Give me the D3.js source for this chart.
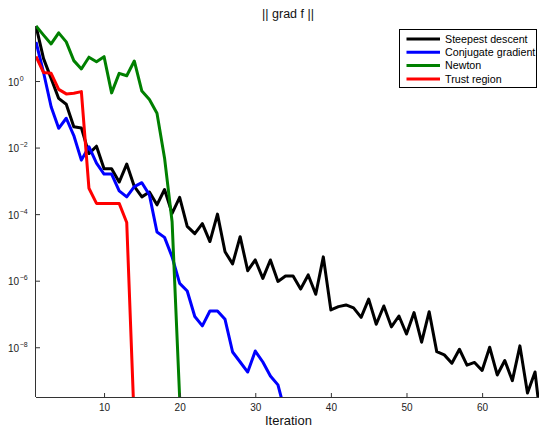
<html>
<head>
<script src="https://d3js.org/d3.v7.min.js"></script>
<style>
  body { margin: 0; background: #fff; }
  text { font-family: "Liberation Sans", Arial, sans-serif; }
</style>
</head>
<body>
<div id="chart"></div>
<script>
// ||grad f|| per iteration
var steepest = [45, 4.7, 1.2, 0.30, 0.20, 0.042, 0.039, 6.6e-3, 1.1e-2, 2.3e-3,
  2.3e-3, 9.2e-4, 3.2e-3, 6.8e-4, 3.3e-4, 4.6e-4, 1.9e-4, 5.5e-4, 1.06e-4, 3.2e-4,
  4.3e-5, 2.6e-5, 5.2e-5, 1.5e-5, 1.0e-4, 7.4e-6, 3.2e-6, 2.1e-5, 2.0e-6, 4.2e-6,
  1.17e-6, 4.2e-6, 9.5e-7, 1.39e-6, 1.39e-6, 5.6e-7, 1.49e-6, 3.9e-7, 5.2e-6, 1.32e-7,
  1.66e-7, 1.87e-7, 1.52e-7, 7.9e-8, 2.8e-7, 4.9e-8, 1.74e-7, 4.1e-8, 8.7e-8, 2.5e-8,
  1.1e-7, 1.42e-8, 1.17e-7, 7.4e-9, 5.9e-9, 3.3e-9, 8.7e-9, 2.9e-9, 3.5e-9, 2.0e-9,
  1.0e-8, 1.47e-9, 4.0e-9, 9.9e-10, 1.1e-8, 4.2e-10, 1.8e-9, 2e-11];
var conjugate = [15, 1.8, 0.169, 0.038, 0.076, 0.023, 4.2e-3, 1.06e-2, 3.4e-3, 1.6e-3,
  1.6e-3, 5.0e-4, 3.3e-4, 6.7e-4, 8.8e-4, 3.8e-4, 2.9e-5, 2.0e-5, 5.2e-6, 8.3e-7,
  4.9e-7, 8.4e-8, 4.4e-8, 1.23e-7, 1.23e-7, 6.9e-8, 7.2e-9, 3.6e-9, 1.8e-9, 7.7e-9,
  3.6e-9, 1.37e-9, 7.4e-10, 1e-10];
var newton = [45, 24, 13, 28, 15, 4.1, 2.3, 5.2, 3.8, 5.4,
  0.44, 1.7, 1.44, 4.0, 0.50, 0.28, 0.107, 4.9e-3, 5.9e-5, 3e-10];
var trust = [5.5, 1.8, 1.7, 0.56, 0.41, 0.43, 0.48, 6.0e-4, 2.1e-4, 2.1e-4,
  2.1e-4, 2.1e-4, 5.6e-5, 5e-11];

var seriesNames = ["Steepest descent", "Conjugate gradient", "Newton", "Trust region"];
var seriesColors = ["#000000", "#0000ff", "#008000", "#ff0000"];
var xTicks = [10, 20, 30, 40, 50, 60];
var yTicks = [1, 1e-2, 1e-4, 1e-6, 1e-8];
var yTickExp = ["0", "\u22122", "\u22124", "\u22126", "\u22128"];

var W = 539, H = 428;
var plotL = 36, plotR = 542.6, plotT = 26, plotB = 397;

var svg = d3.select("#chart").append("svg")
  .attr("width", W).attr("height", H);

var x = d3.scaleLinear().domain([1, 68]).range([plotL, plotR]);
var y = d3.scaleLog().domain([3.2e-10, 45]).range([plotB, plotT]);

svg.append("clipPath").attr("id", "clip")
  .append("rect").attr("x", plotL).attr("y", 0)
  .attr("width", W - plotL).attr("height", plotB);

var line = d3.line()
  .x(function(d, i) { return x(i + 1); })
  .y(function(d) { return y(d); });

var allSeries = [steepest, conjugate, newton, trust];
svg.append("g").attr("clip-path", "url(#clip)")
  .selectAll("path")
  .data(allSeries)
  .enter().append("path")
  .attr("d", line)
  .attr("fill", "none")
  .attr("stroke", function(d, i) { return seriesColors[i]; })
  .attr("stroke-width", 3)
  .attr("stroke-linejoin", "round");

// x axis
var xAxis = svg.append("g")
  .attr("transform", "translate(0," + plotB + ")")
  .call(d3.axisBottom(x).tickValues(xTicks).tickSize(-4).tickSizeOuter(0).tickPadding(6.5));
xAxis.select(".domain").attr("stroke", "#333").attr("d", "M" + plotL + ",0.5H" + W);
xAxis.selectAll("line").attr("stroke", "#333");
xAxis.selectAll("text").attr("font-size", 10).attr("fill", "#222")
  .attr("font-family", "Liberation Sans, Arial, sans-serif");

// y axis
var yAxis = svg.append("g")
  .attr("transform", "translate(" + plotL + ",0)")
  .call(d3.axisLeft(y).tickValues(yTicks).tickSize(-4).tickSizeOuter(0).tickFormat(""));
yAxis.select(".domain").attr("stroke", "#333").attr("d", "M-0.5," + plotT + "V" + plotB);
yAxis.selectAll("line").attr("stroke", "#333");

var yLab = svg.append("g").selectAll("text")
  .data(yTicks)
  .enter().append("text")
  .attr("x", 8)
  .attr("y", function(d) { return y(d) + 4.5; })
  .attr("font-size", 10)
  .attr("fill", "#222");
yLab.append("tspan").text("10");
yLab.append("tspan")
  .attr("dy", -5).attr("dx", 0.5)
  .attr("font-size", 7)
  .text(function(d, i) { return yTickExp[i]; });

// title and x label
svg.append("text")
  .attr("x", 288).attr("y", 18)
  .attr("text-anchor", "middle")
  .attr("font-size", 12.5)
  .attr("fill", "#111")
  .text("|| grad f ||");

svg.append("text")
  .attr("x", 288.5).attr("y", 425)
  .attr("text-anchor", "middle")
  .attr("font-size", 13)
  .attr("fill", "#111")
  .text("Iteration");

// legend
var legend = svg.append("g");
legend.append("rect")
  .attr("x", 399.5).attr("y", 29.5)
  .attr("width", 137).attr("height", 58)
  .attr("fill", "#fff").attr("stroke", "#000").attr("stroke-width", 1);

var rows = legend.selectAll(".row")
  .data(seriesNames)
  .enter().append("g")
  .attr("class", "row")
  .attr("transform", function(d, i) { return "translate(0," + (39 + i * 13.3) + ")"; });
rows.append("line")
  .attr("x1", 406.5).attr("x2", 440)
  .attr("stroke", function(d, i) { return seriesColors[i]; })
  .attr("stroke-width", 3);
rows.append("text")
  .attr("x", 445).attr("y", 3.8)
  .attr("font-size", 10.7)
  .attr("fill", "#000")
  .text(function(d) { return d; });
</script>
</body>
</html>
